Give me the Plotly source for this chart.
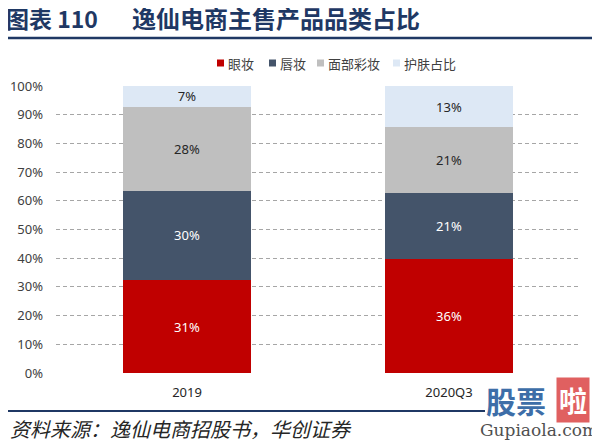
import plotly.graph_objects as go

categories = ["2019", "2020Q3"]
series_names = ["眼妆", "唇妆", "面部彩妆", "护肤占比"]
eye = [31, 36]
lip = [30, 21]
face = [28, 21]
skin = [7, 13]
y_ticks = [0, 10, 20, 30, 40, 50, 60, 70, 80, 90, 100]
y_tick_text = [f"{v}%" for v in y_ticks]

colors = ["#C00000", "#44546A", "#BFBFBF", "#DDE8F5"]
text_colors = ["#FFFFFF", "#FFFFFF", "#262626", "#262626"]

# page body has an 8px default margin: figure is drawn offset by 8px
OFF = 8
W, H = 600 - OFF, 442 - OFF
ML, MT = 56 - OFF, 86 - OFF
MR = W - (580 - OFF)
MB = H - (373 - OFF)
PW, PH = W - ML - MR, H - MT - MB


def px(x):
    return (x - OFF - ML) / PW


def py(y):
    return (H - MB - (y - OFF)) / PH


fig = go.Figure()
for name, vals, c, tc in zip(series_names, [eye, lip, face, skin], colors, text_colors):
    fig.add_trace(go.Bar(
        x=categories, y=vals, name=name,
        marker=dict(color=c, line=dict(width=0)),
        text=[f"{v}%" for v in vals],
        textposition="inside", insidetextanchor="middle", textangle=0,
        constraintext="none",
        textfont=dict(color=tc, size=13, family="Noto Sans"),
        showlegend=False,
    ))

fig.update_layout(
    barmode="stack", barnorm="percent", bargap=0.51,
    width=W, height=H,
    margin=dict(l=ML, r=MR, t=MT, b=MB, autoexpand=False),
    paper_bgcolor="white", plot_bgcolor="white",
    font=dict(family="Noto Sans", size=13, color="#404040"),
    showlegend=False,
    uniformtext=dict(minsize=13, mode="show"),
    xaxis=dict(showline=False, ticks="", showgrid=False, ticklabelstandoff=10,
               tickfont=dict(size=13, color="#262626")),
    yaxis=dict(range=[0, 100], tickmode="array", tickvals=y_ticks, ticktext=y_tick_text,
               showgrid=True, gridcolor="#A6A6A6", griddash="4px,3px", gridwidth=1,
               zeroline=False, showline=False, ticks="", ticklabelstandoff=12,
               tickfont=dict(size=13, color="#404040")),
)

# Manual legend
legend_sq_x = [217, 269, 317, 393]
for name, c, sx in zip(series_names, colors, legend_sq_x):
    fig.add_shape(type="rect", xref="paper", yref="paper",
                  x0=px(sx), x1=px(sx + 7), y0=py(66.5), y1=py(59.5),
                  fillcolor=c, line=dict(width=0))
    fig.add_annotation(xref="paper", yref="paper", x=px(sx + 9), y=py(63),
                       xanchor="left", yanchor="middle", text=name, showarrow=False,
                       font=dict(size=13, color="#404040", family="Noto Sans CJK SC"))

# Title
fig.add_annotation(xref="paper", yref="paper", x=px(5), y=py(18), xanchor="left", yanchor="middle",
                   text="<b>图表 110</b>", showarrow=False, borderpad=0,
                   font=dict(size=23, color="#1F3864", family="Noto Sans CJK SC"))
fig.add_annotation(xref="paper", yref="paper", x=px(131), y=py(18), xanchor="left", yanchor="middle",
                   text="<b>逸仙电商主售产品品类占比</b>", showarrow=False, borderpad=0,
                   font=dict(size=24, color="#1F3864", family="Noto Sans CJK SC"))
fig.add_shape(type="line", xref="paper", yref="paper", x0=px(6), x1=px(600), y0=py(38), y1=py(38),
              line=dict(color="#1F3864", width=2.5))

# Bottom line and source
fig.add_shape(type="line", xref="paper", yref="paper", x0=px(6), x1=px(485), y0=py(411), y1=py(411),
              line=dict(color="#1F3864", width=2))
fig.add_annotation(xref="paper", yref="paper", x=px(8), y=py(428), xanchor="left", yanchor="middle",
                   text="<i>资料来源：逸仙电商招股书，华创证券</i>", showarrow=False,
                   font=dict(size=20, color="#262626", family="Noto Sans CJK SC"))

# Watermark
fig.add_annotation(xref="paper", yref="paper", x=px(516), y=py(400), xanchor="center", yanchor="middle",
                   text="<b>股票</b>", showarrow=False,
                   font=dict(size=30, color="#3D6EA8", family="Noto Sans CJK SC"))
fig.add_annotation(xref="paper", yref="paper", x=px(573), y=py(400), xanchor="center", yanchor="middle",
                   text="<b>啦</b>", showarrow=False, bgcolor="#E06060", borderpad=2,
                   font=dict(size=28, color="#FFFFFF", family="Noto Sans CJK SC"))
fig.add_annotation(xref="paper", yref="paper", x=px(539), y=py(430), xanchor="center", yanchor="middle",
                   text="Gupiaola.com", showarrow=False,
                   font=dict(size=17, color="#505050", family="DejaVu Serif"))

fig.write_html("out.html")
